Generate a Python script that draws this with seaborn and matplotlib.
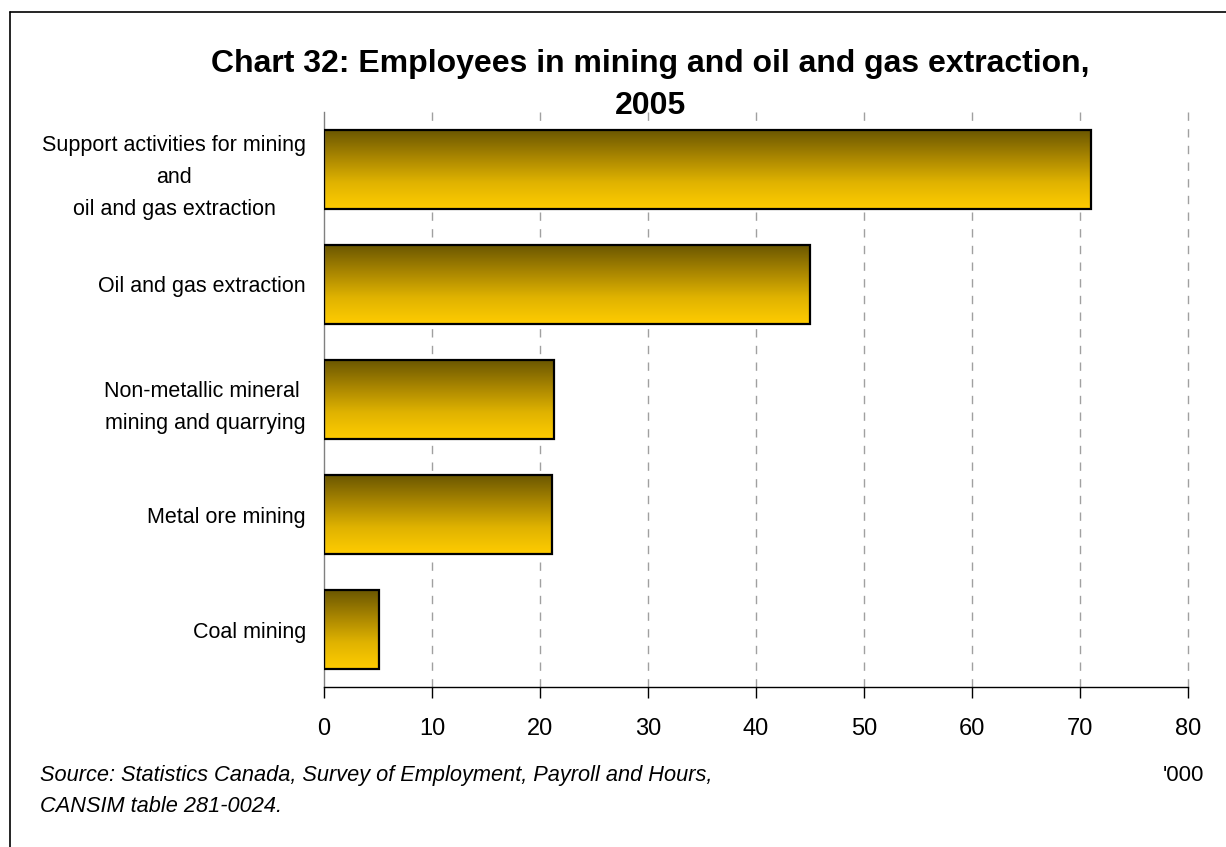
import numpy as np
import pandas as pd
import matplotlib
matplotlib.use("Agg")
import matplotlib.pyplot as plt
from matplotlib.colors import LinearSegmentedColormap
import seaborn as sns

categories = [
    "Support activities for mining\nand\noil and gas extraction",
    "Oil and gas extraction",
    "Non-metallic mineral \nmining and quarrying",
    "Metal ore mining",
    "Coal mining",
]
employees = [71.0, 45.0, 21.3, 21.1, 5.1]
xticks = [0, 10, 20, 30, 40, 50, 60, 70, 80]

sns.set_theme(style="white")
plt.rcParams["font.family"] = ["Liberation Sans", "DejaVu Sans"]
plt.rcParams["text.color"] = "black"
plt.rcParams["xtick.color"] = "black"
plt.rcParams["ytick.color"] = "black"

df = pd.DataFrame({"category": categories, "employees": employees})

fig = plt.figure(figsize=(12.26, 8.47), dpi=100)
ax = fig.add_axes([324 / 1226, 1 - 687 / 847, (1188 - 324) / 1226, (687 - 112) / 847])

sns.barplot(data=df, x="employees", y="category", orient="h", ax=ax,
            width=0.68, color="#d4a800", edgecolor="black", linewidth=1.6,
            zorder=3)

# vertical gradient fill for each bar: dark olive at top, gold at bottom
cmap = LinearSegmentedColormap.from_list(
    "gold", ["#6b5700", "#a88500", "#e0b300", "#ffcc00"])
grad = np.linspace(0, 1, 256).reshape(-1, 1)
for patch in ax.patches:
    x0, y0 = patch.get_x(), patch.get_y()
    w, h = patch.get_width(), patch.get_height()
    patch.set_facecolor("none")
    im = ax.imshow(grad, cmap=cmap, aspect="auto",
                   extent=[x0, x0 + w, y0 + h, y0], origin="upper",
                   zorder=2.5, interpolation="bilinear")
    im.set_clip_path(patch)

ax.set_xlim(0, 80)
ax.set_ylim(4.5, -0.5)
ax.set_xticks(xticks)
ax.set_xticklabels([str(t) for t in xticks], fontsize=17)
ax.set_xlabel("")
ax.set_ylabel("")

for t in xticks[1:]:
    ax.axvline(t, color="#a0a0a0", linestyle=(0, (6, 6)), linewidth=1,
               zorder=1, clip_on=False)

for s in ["top", "right"]:
    ax.spines[s].set_visible(False)
ax.spines["left"].set_color("#808080")
ax.spines["left"].set_linewidth(1)
ax.spines["bottom"].set_color("black")
ax.spines["bottom"].set_linewidth(1)
ax.tick_params(axis="x", direction="out", length=8, width=1, color="black",
               bottom=True, pad=14)
ax.tick_params(axis="y", length=0, pad=13)
for lbl in ax.get_yticklabels():
    lbl.set_fontsize(15.5)
    lbl.set_multialignment("center")
    lbl.set_linespacing(1.68)

fig.text(650 / 1226, 1 - 85 / 847,
         "Chart 32: Employees in mining and oil and gas extraction,\n2005",
         ha="center", va="center", fontsize=23, fontweight="bold",
         linespacing=1.55)
fig.text(40 / 1226, 1 - 791 / 847,
         "Source: Statistics Canada, Survey of Employment, Payroll and Hours,\nCANSIM table 281-0024.",
         ha="left", va="center", fontsize=15.7, style="italic", linespacing=1.68)
fig.text(1204 / 1226, 1 - 775 / 847, "'000", ha="right", va="center",
         fontsize=16)

# outer frame on the left and top edges
fig.add_artist(plt.Line2D([10 / 1226, 10 / 1226], [0, 1 - 12 / 847],
                          color="black", linewidth=1.2, transform=fig.transFigure))
fig.add_artist(plt.Line2D([10 / 1226, 1], [1 - 12 / 847, 1 - 12 / 847],
                          color="black", linewidth=1.2, transform=fig.transFigure))

fig.savefig("out.png", dpi=100)
